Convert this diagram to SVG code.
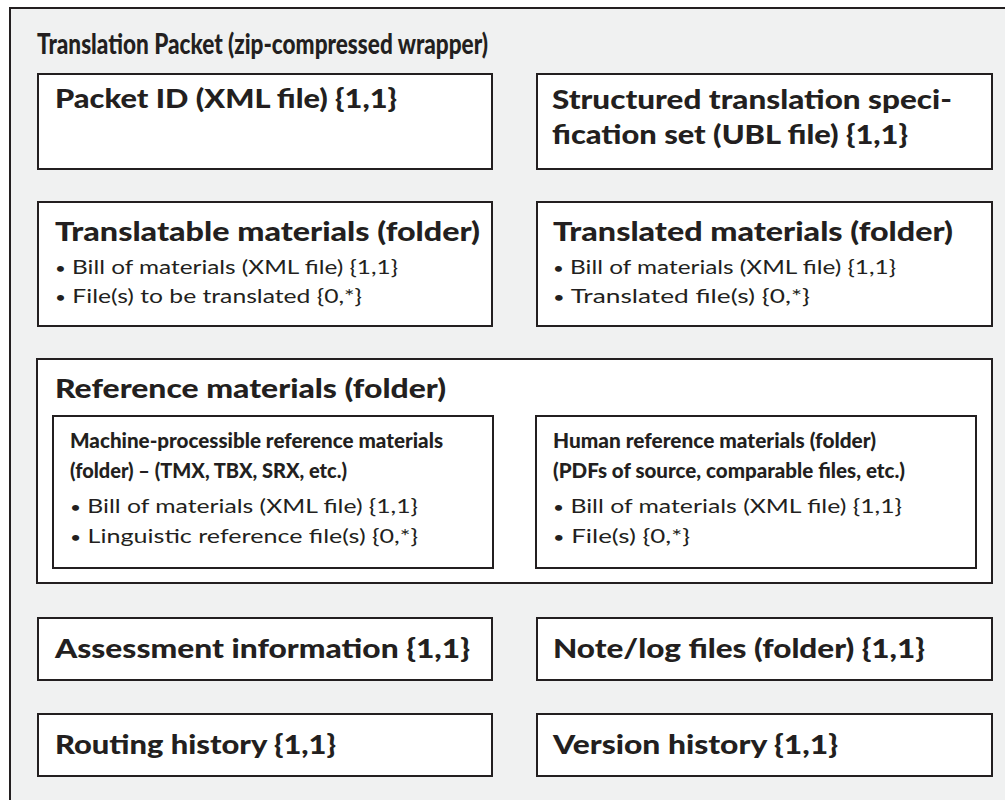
<svg xmlns="http://www.w3.org/2000/svg" width="1005" height="800" viewBox="0 0 1005 800">
  <style>
    .frame { fill: #f0f1f1; stroke: #231f20; stroke-width: 2; }
    .box { fill: #ffffff; stroke: #231f20; stroke-width: 2; }
    text { fill: #231f20; font-family: Lato, "Open Sans", "Liberation Sans", sans-serif; }
    .title { font-size: 28px; font-weight: 900; }
    .head { font-size: 26px; font-weight: 900; }
    .sub { font-size: 20px; font-weight: 900; }
    .item { font-size: 19.5px; font-weight: 400; }
    .dot { font-size: 15px; }
  </style>

  <!-- outer packet wrapper -->
  <g id="packet">
    <rect class="frame" x="10" y="8" width="1010" height="810"/>
    <text class="title" x="37" y="54" textLength="451" lengthAdjust="spacingAndGlyphs">Translation Packet (zip-compressed wrapper)</text>
  </g>

  <g id="packet-id">
    <rect class="box" x="38" y="74" width="454" height="95"/>
    <text class="head" x="55" y="108" textLength="342" lengthAdjust="spacingAndGlyphs">Packet ID (XML file) {1,1}</text>
  </g>

  <g id="specification-set">
    <rect class="box" x="537" y="74" width="455" height="95"/>
    <text class="head" x="552" y="109" textLength="400" lengthAdjust="spacingAndGlyphs">Structured translation speci-</text>
    <text class="head" x="552" y="144" textLength="356" lengthAdjust="spacingAndGlyphs">fication set (UBL file) {1,1}</text>
  </g>

  <g id="translatable-materials">
    <rect class="box" x="38" y="202" width="454" height="124"/>
    <text class="head" x="55" y="241" textLength="425" lengthAdjust="spacingAndGlyphs">Translatable materials (folder)</text>
    <text class="item" x="55" y="274" textLength="343" lengthAdjust="spacingAndGlyphs"><tspan class="dot">•</tspan> Bill of materials (XML file) {1,1}</text>
    <text class="item" x="55" y="303" textLength="307" lengthAdjust="spacingAndGlyphs"><tspan class="dot">•</tspan> File(s) to be translated {0,*}</text>
  </g>

  <g id="translated-materials">
    <rect class="box" x="537" y="202" width="455" height="124"/>
    <text class="head" x="553" y="241" textLength="400" lengthAdjust="spacingAndGlyphs">Translated materials (folder)</text>
    <text class="item" x="553" y="274" textLength="343" lengthAdjust="spacingAndGlyphs"><tspan class="dot">•</tspan> Bill of materials (XML file) {1,1}</text>
    <text class="item" x="553" y="303" textLength="257" lengthAdjust="spacingAndGlyphs"><tspan class="dot">•</tspan> Translated file(s) {0,*}</text>
  </g>

  <g id="reference-materials">
    <rect class="box" x="37" y="359" width="955" height="224"/>
    <text class="head" x="55" y="398" textLength="391" lengthAdjust="spacingAndGlyphs">Reference materials (folder)</text>
  </g>

  <g id="machine-reference">
    <rect class="box" x="53" y="416" width="440" height="152"/>
    <text class="sub" x="70" y="448" textLength="373" lengthAdjust="spacingAndGlyphs">Machine-processible reference materials</text>
    <text class="sub" x="70" y="478" textLength="277" lengthAdjust="spacingAndGlyphs">(folder) – (TMX, TBX, SRX, etc.)</text>
    <text class="item" x="70" y="513" textLength="348" lengthAdjust="spacingAndGlyphs"><tspan class="dot">•</tspan> Bill of materials (XML file) {1,1}</text>
    <text class="item" x="70" y="543" textLength="348" lengthAdjust="spacingAndGlyphs"><tspan class="dot">•</tspan> Linguistic reference file(s) {0,*}</text>
  </g>

  <g id="human-reference">
    <rect class="box" x="536" y="416" width="440" height="152"/>
    <text class="sub" x="553" y="448" textLength="323" lengthAdjust="spacingAndGlyphs">Human reference materials (folder)</text>
    <text class="sub" x="553" y="478" textLength="352" lengthAdjust="spacingAndGlyphs">(PDFs of source, comparable files, etc.)</text>
    <text class="item" x="553" y="513" textLength="349" lengthAdjust="spacingAndGlyphs"><tspan class="dot">•</tspan> Bill of materials (XML file) {1,1}</text>
    <text class="item" x="553" y="543" textLength="137" lengthAdjust="spacingAndGlyphs"><tspan class="dot">•</tspan> File(s) {0,*}</text>
  </g>

  <g id="assessment-information">
    <rect class="box" x="38" y="618" width="454" height="62"/>
    <text class="head" x="55" y="658" textLength="415" lengthAdjust="spacingAndGlyphs">Assessment information {1,1}</text>
  </g>

  <g id="note-log-files">
    <rect class="box" x="537" y="618" width="455" height="62"/>
    <text class="head" x="553" y="658" textLength="372" lengthAdjust="spacingAndGlyphs">Note/log files (folder) {1,1}</text>
  </g>

  <g id="routing-history">
    <rect class="box" x="38" y="714" width="454" height="62"/>
    <text class="head" x="55" y="754" textLength="281" lengthAdjust="spacingAndGlyphs">Routing history {1,1}</text>
  </g>

  <g id="version-history">
    <rect class="box" x="537" y="714" width="455" height="62"/>
    <text class="head" x="553" y="754" textLength="285" lengthAdjust="spacingAndGlyphs">Version history {1,1}</text>
  </g>

  <g id="connectors"/>
</svg>
